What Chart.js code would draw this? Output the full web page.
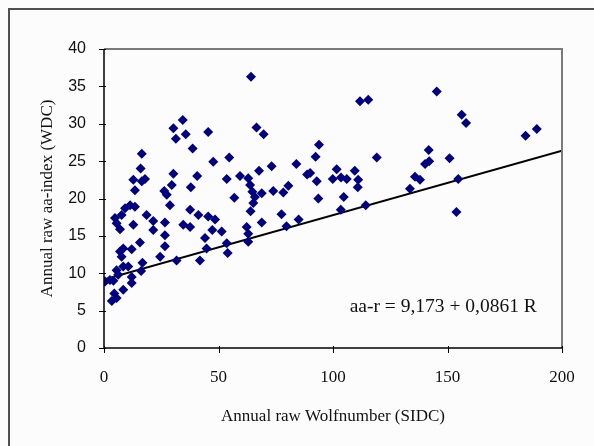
<!DOCTYPE html>
<html>
<head>
<meta charset="utf-8">
<script src="https://cdn.jsdelivr.net/npm/chart.js@4"></script>
<style>
html,body{margin:0;padding:0;background:#fbfcfb;}
#wrap{width:594px;height:446px;position:relative;}
</style>
</head>
<body>
<div id="wrap"><canvas id="c" width="594" height="446"></canvas></div>
<script>
// Sunspot number (x) and aa-index (y)
const sunspotR = [
 0.5,2.6,4.1,3.4,5.5,4.5,8.4,6.2,8.4,10.6,12.1,12.1,7.7,8.4,12.1,15.7,16.8,16.2,7.0,12.8,
 4.8,7.7,9.2,13.5,18.6,21.5,21.5,13.5,12.8,16.5,17.9,16.0,16.5,5.5,11.4,5.5,7.0,
 24.5,26.6,31.7,41.9,26.6,26.6,34.6,37.6,37.6,41.2,28.8,27.4,26.3,29.6,30.3,37.9,40.7,38.7,
 31.4,30.3,34.4,35.7,44.1,44.8,
 45.5,47.7,54.7,53.6,59.4,63.0,63.8,64.8,65.9,65.2,64.0,56.9,45.5,48.5,47.3,51.4,62.3,63.0,
 63.0,53.6,54.0,64.2,66.6,69.7,67.7,68.9,68.9,
 73.2,73.9,78.3,80.5,77.5,79.7,85.0,84.0,88.7,93.9,92.4,90.0,92.9,93.6,99.9,101.6,103.5,
 106.0,104.7,103.4,109.5,111.0,110.8,114.3,111.8,115.4,119.1,
 133.6,135.8,138.0,140.2,142.0,141.8,145.3,150.9,154.7,153.9,156.2,158.1,184.1,189.0
];
const aaIndex = [
 8.9,9.1,9.0,6.3,6.7,7.3,7.8,9.8,10.9,10.9,9.5,8.7,12.2,13.3,13.2,14.1,11.4,10.3,15.9,16.5,
 17.4,17.8,18.7,18.9,17.8,17.0,15.8,21.1,22.5,22.3,22.6,24.0,26.0,10.4,19.1,16.7,12.9,
 12.2,13.6,11.7,11.7,15.1,16.8,16.5,16.2,18.5,17.8,19.1,20.5,21.0,21.8,23.3,21.5,23.0,26.7,
 28.0,29.4,30.5,28.6,14.7,13.3,
 28.9,24.9,25.5,22.6,23.0,22.7,21.8,20.9,20.2,19.4,18.3,20.1,17.6,17.2,15.8,15.6,16.2,15.3,
 14.2,14.0,12.7,36.3,29.5,28.6,23.7,20.7,16.8,
 24.3,21.0,20.8,21.7,17.9,16.3,17.2,24.6,23.2,27.2,25.6,23.4,22.3,20.0,22.6,23.9,22.8,
 22.6,20.2,18.5,23.7,22.5,21.5,19.1,33.0,33.2,25.5,
 21.3,22.9,22.5,24.6,25.0,26.5,34.3,25.4,22.6,18.2,31.2,30.1,28.4,29.3
];
// Regression: aa-r = 9,173 + 0,0861 R
const fitIntercept = 9.173;
const fitSlope = 0.0861;
const fitRange = [0, 200];
const xTicks = [0, 50, 100, 150, 200];
const yTicks = [0, 5, 10, 15, 20, 25, 30, 35, 40];
const xTitle = 'Annual raw Wolfnumber (SIDC)';
const yTitle = 'Annual raw aa-index (WDC)';
const equationText = 'aa-r = 9,173 + 0,0861 R';

const points = sunspotR.map((x, i) => ({x: x, y: aaIndex[i]}));
const fitLine = fitRange.map(x => ({x: x, y: fitIntercept + fitSlope * x}));

const serif = '"Liberation Serif", "Times New Roman", serif';
const sans = '"Liberation Sans", Arial, sans-serif';

const decor = {
  id: 'decor',
  beforeDraw(chart) {
    const ctx = chart.ctx;
    ctx.save();
    ctx.fillStyle = '#fbfcfb';
    ctx.fillRect(0, 0, chart.width, chart.height);
    ctx.strokeStyle = '#505050';
    ctx.lineWidth = 2;
    ctx.beginPath();
    ctx.moveTo(9, chart.height + 5);
    ctx.lineTo(9, 9);
    ctx.lineTo(chart.width + 5, 9);
    ctx.stroke();
    ctx.restore();
  },
  afterDatasetsDraw(chart) {
    const ctx = chart.ctx;
    const a = chart.chartArea;
    const xs = chart.scales.x, ys = chart.scales.y;
    ctx.save();
    ctx.strokeStyle = '#7a7a7a';
    ctx.lineWidth = 2;
    ctx.beginPath();
    ctx.moveTo(a.left, a.top);
    ctx.lineTo(a.right, a.top);
    ctx.lineTo(a.right, a.bottom);
    ctx.stroke();
    // axes
    ctx.strokeStyle = '#000';
    ctx.lineWidth = 1.5;
    ctx.beginPath();
    ctx.moveTo(a.left, a.top);
    ctx.lineTo(a.left, a.bottom);
    ctx.lineTo(a.right, a.bottom);
    ctx.stroke();
    ctx.lineWidth = 1;
    ctx.beginPath();
    xs.ticks.forEach(t => {
      const px = Math.round(xs.getPixelForValue(t.value)) + 0.5;
      ctx.moveTo(px, a.bottom - 2);
      ctx.lineTo(px, a.bottom + 5);
    });
    ys.ticks.forEach(t => {
      const py = Math.round(ys.getPixelForValue(t.value)) + 0.5;
      ctx.moveTo(a.left - 5, py);
      ctx.lineTo(a.left + 2, py);
    });
    ctx.stroke();
    // equation
    ctx.fillStyle = '#111';
    ctx.font = '19.5px ' + serif;
    ctx.textAlign = 'right';
    ctx.textBaseline = 'middle';
    ctx.fillText(equationText, xs.getPixelForValue(189), ys.getPixelForValue(5.5));
    ctx.restore();
  }
};

new Chart(document.getElementById('c'), {
  type: 'scatter',
  data: {
    datasets: [
      {
        label: 'aa',
        data: points,
        pointStyle: 'rectRot',
        pointRadius: 5,
        pointHoverRadius: 5,
        backgroundColor: '#000080',
        borderColor: '#000080',
        borderWidth: 0
      },
      {
        label: 'fit',
        type: 'line',
        data: fitLine,
        borderColor: '#000',
        borderWidth: 2,
        pointRadius: 0,
        fill: false
      }
    ]
  },
  options: {
    responsive: false,
    animation: false,
    events: [],
    layout: {padding: {top: 49, right: 32, bottom: 0, left: 0}},
    plugins: {legend: {display: false}, tooltip: {enabled: false}},
    scales: {
      x: {
        type: 'linear',
        min: 0, max: 200,
        afterBuildTicks(s) { s.ticks = xTicks.map(v => ({value: v})); },
        afterFit(s) { s.height = 98; },
        grid: {display: false},
        border: {display: false},
        ticks: {color: '#111', font: {family: serif, size: 17}, padding: 11, maxRotation: 0},
        title: {display: true, text: xTitle, color: '#111', font: {family: serif, size: 17}, padding: {top: 0, bottom: 19}}
      },
      y: {
        type: 'linear',
        min: 0, max: 40,
        afterBuildTicks(s) { s.ticks = yTicks.map(v => ({value: v})); },
        afterFit(s) { s.width = 104; },
        grid: {display: false},
        border: {display: false},
        ticks: {color: '#111', font: {family: sans, size: 16}, padding: 10},
        title: {display: true, text: yTitle, color: '#111', font: {family: serif, size: 17}, padding: {top: 37, bottom: 0}}
      }
    }
  },
  plugins: [decor]
});
</script>
</body>
</html>
